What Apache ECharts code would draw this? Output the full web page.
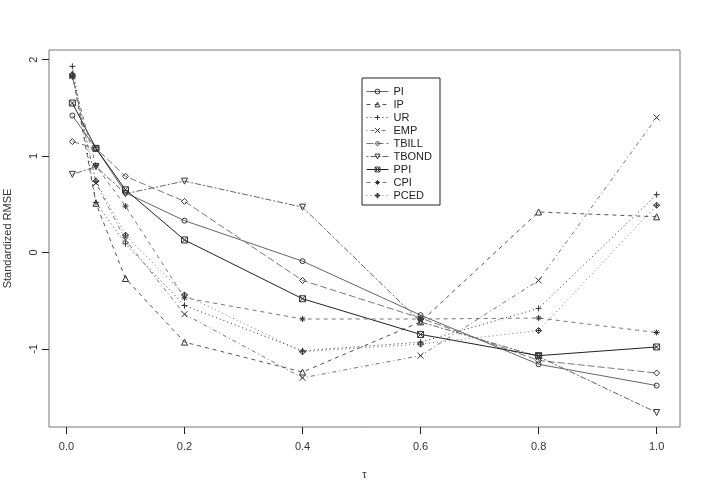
<!DOCTYPE html>
<html>
<head>
<meta charset="utf-8">
<script src="https://cdn.jsdelivr.net/npm/echarts@6/dist/echarts.min.js"></script>
<style>
  html, body { margin: 0; padding: 0; background: #fff; }
  #chart { width: 706px; height: 493px; }
</style>
</head>
<body>
<div id="chart"></div>
<script>
// quantile levels (x axis)
const tau = [0.01, 0.05, 0.1, 0.2, 0.4, 0.6, 0.8, 1.0];
const xTicks = [0, 0.2, 0.4, 0.6, 0.8, 1.0];
const yTicks = [-1, 0, 1, 2];

// standardized RMSE per variable
const PI    = [1.42, 1.08, 0.62, 0.33, -0.09, -0.65, -1.16, -1.38];
const IP    = [1.85, 0.51, -0.27, -0.93, -1.24, -0.72, 0.42, 0.37];
const UR    = [1.93, 0.52, 0.09, -0.55, -1.02, -0.93, -0.58, 0.60];
const EMP   = [1.83, 0.72, 0.13, -0.64, -1.30, -1.07, -0.29, 1.40];
const TBILL = [1.15, 1.08, 0.79, 0.53, -0.29, -0.68, -1.12, -1.25];
const TBOND = [0.81, 0.89, 0.61, 0.74, 0.47, -0.72, -1.08, -1.66];
const PPI   = [1.55, 1.08, 0.65, 0.13, -0.48, -0.85, -1.07, -0.98];
const CPI   = [1.82, 0.90, 0.48, -0.47, -0.69, -0.69, -0.68, -0.83];
const PCED  = [1.84, 0.74, 0.18, -0.44, -1.03, -0.95, -0.81, 0.49];

const seriesNames = ["PI", "IP", "UR", "EMP", "TBILL", "TBOND", "PPI", "CPI", "PCED"];
const seriesValues = [PI, IP, UR, EMP, TBILL, TBOND, PPI, CPI, PCED];

// R style pch 1..9 and lty 1..6
const symbols = [
  "circle",
  "path://M5,0L10,9L0,9Z",
  "path://M5,0L5,10M0,5L10,5",
  "path://M0,0L10,10M10,0L0,10",
  "path://M5,0L10,5L5,10L0,5Z",
  "path://M0,0L10,0L5,9Z",
  "path://M0,0L10,0L10,10L0,10ZM0,0L10,10M10,0L0,10",
  "path://M5,0L5,10M0,5L10,5M1.5,1.5L8.5,8.5M8.5,1.5L1.5,8.5",
  "path://M5,0L10,5L5,10L0,5ZM5,0L5,10M0,5L10,5"
];
const dashes = ["solid", [4, 4], [1, 3], [1, 3, 4, 3], [7, 3], [2, 2, 6, 2], "solid", [4, 4], [1, 3]];
const colors = ["#666", "#555", "#333", "#777", "#777", "#666", "#222", "#777", "#777"];

const font = "Liberation Sans, Arial, sans-serif";

const chart = echarts.init(document.getElementById("chart"));

const series = seriesNames.map((name, k) => ({
  name: name,
  type: "line",
  data: tau.map((t, i) => [t, seriesValues[k][i]]),
  symbol: symbols[k],
  symbolSize: k === 0 ? 5 : 6,
  showAllSymbol: true,
  lineStyle: { color: colors[k], width: 1, type: dashes[k] },
  itemStyle: { color: "rgba(0,0,0,0)", borderColor: "#333", borderWidth: 1 },
  emphasis: { disabled: true },
  z: 2
}));

chart.setOption({
  animation: false,
  backgroundColor: "#fff",
  grid: {
    left: 49, right: 26, top: 50, bottom: 66,
    outerBoundsMode: "none",
    containLabel: false,
    show: true, borderColor: "#777", borderWidth: 1, backgroundColor: "transparent"
  },
  legend: {
    orient: "vertical",
    left: 362, top: 78,
    data: seriesNames,
    itemWidth: 22, itemHeight: 6, itemGap: 2,
    padding: [8, 8, 4, 4],
    borderColor: "#222", borderWidth: 1,
    backgroundColor: "#fff",
    itemStyle: { color: "rgba(0,0,0,0)", borderColor: "#333", borderWidth: 1 },
    lineStyle: { width: 1 },
    textStyle: { fontFamily: font, fontSize: 11, color: "#222", lineHeight: 10 }
  },
  xAxis: {
    type: "value",
    min: -0.0296, max: 1.0396,
    name: "τ",
    nameLocation: "middle",
    nameGap: 42,
    nameTextStyle: { fontFamily: font, fontSize: 11, color: "#333" },
    axisLine: { show: false, onZero: false },
    splitLine: { show: false },
    axisTick: { show: true, length: 7, lineStyle: { color: "#222" }, customValues: xTicks },
    axisLabel: {
      fontFamily: font, fontSize: 11, color: "#333", margin: 14,
      customValues: xTicks,
      formatter: v => v.toFixed(1)
    }
  },
  yAxis: {
    type: "value",
    min: -1.81, max: 2.10,
    name: "Standardized RMSE",
    nameLocation: "middle",
    nameGap: 36,
    nameTextStyle: { fontFamily: font, fontSize: 11, color: "#333" },
    axisLine: { show: false, onZero: false },
    splitLine: { show: false },
    axisTick: { show: true, length: 7, lineStyle: { color: "#222" }, customValues: yTicks },
    axisLabel: {
      fontFamily: font, fontSize: 11, color: "#333", margin: 10, rotate: 90,
      customValues: yTicks
    }
  },
  series: series
});
</script>
</body>
</html>
